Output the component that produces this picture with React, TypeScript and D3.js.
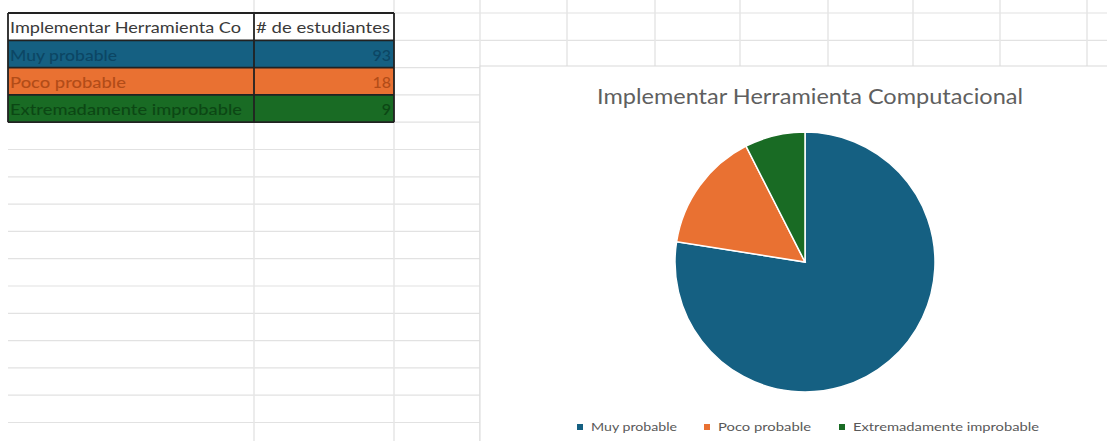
import React from "react";
import * as d3 from "d3";

const categories = ["Muy probable", "Poco probable", "Extremadamente improbable"];
const students = [93, 18, 9];
const headerLabels = ["Implementar Herramienta Co", "# de estudiantes"];
const chartTitle = "Implementar Herramienta Computacional";

const fills = ["#156082", "#E97132", "#196B24"];
const inkColors = ["#0c4664", "#b24c18", "#0c4714"];

const W = 1107;
const H = 441;

export default function App() {
  const colEdges = [8, 254, 394, 480, 567, 655, 740, 828, 913, 1000, 1087];
  const rowTop = 13;
  const rowH = 27.3;
  const rowLines = d3.range(0, 16).map((i) => rowTop + i * rowH);

  const pie = d3.pie<number>().sort(null).value((d) => d)(students);
  const cx = 805;
  const cy = 262;
  const r = 130;
  const arc = d3.arc<d3.PieArcDatum<number>>().innerRadius(0).outerRadius(r);

  const legendX = [580, 707, 842];
  const legendW = [86, 93, 186];
  const labelW = [107, 116, 232];

  const tableBottom = rowTop + 4 * rowH;
  const font = "Lato, 'Open Sans', sans-serif";

  return (
    <svg width={W} height={H} style={{ position: "absolute", left: 0, top: 0, background: "#fff" }}>
      <rect x={0} y={0} width={W} height={H} fill="#ffffff" />
      {rowLines.map((y, i) => (
        <line key={"h" + i} x1={8} x2={W} y1={y} y2={y} stroke="#e2e2e2" strokeWidth={1.2} />
      ))}
      {colEdges.slice(1).map((x, i) => (
        <line key={"v" + i} x1={x} x2={x} y1={0} y2={H} stroke="#e6e6e6" strokeWidth={1.5} />
      ))}

      {categories.map((c, i) => {
        const y = rowTop + (i + 1) * rowH;
        return (
          <g key={"row" + i}>
            <rect x={colEdges[0]} y={y} width={colEdges[2] - colEdges[0]} height={rowH} fill={fills[i]} />
            <text
              x={10}
              y={y + rowH - 7}
              fontFamily={font}
              fontSize={16}
              fontWeight={500}
              fill={inkColors[i]}
              textLength={labelW[i]}
              lengthAdjust="spacingAndGlyphs"
            >
              {c}
            </text>
            <text
              x={colEdges[2] - 3}
              y={y + rowH - 7}
              textAnchor="end"
              fontFamily={font}
              fontSize={16}
              fontWeight={500}
              fill={inkColors[i]}
            >
              {students[i]}
            </text>
          </g>
        );
      })}
      <rect x={colEdges[0]} y={rowTop} width={colEdges[2] - colEdges[0]} height={rowH} fill="#fff" />
      <text x={10} y={rowTop + rowH - 7} fontFamily={font} fontSize={16} fill="#3a3a3a" textLength={231} lengthAdjust="spacingAndGlyphs">
        {headerLabels[0]}
      </text>
      <text x={256} y={rowTop + rowH - 7} fontFamily={font} fontSize={16} fill="#3a3a3a" textLength={134} lengthAdjust="spacingAndGlyphs">
        {headerLabels[1]}
      </text>
      {[0, 1, 2, 3, 4].map((i) => (
        <line key={"tb" + i} x1={colEdges[0]} x2={colEdges[2]} y1={rowTop + i * rowH} y2={rowTop + i * rowH} stroke="#222" strokeWidth={1.8} />
      ))}
      {[0, 1, 2].map((i) => (
        <line key={"tv" + i} x1={colEdges[i]} x2={colEdges[i]} y1={rowTop} y2={tableBottom} stroke="#222" strokeWidth={1.8} />
      ))}

      <rect x={480} y={66} width={W - 480 + 5} height={H - 66 + 5} fill="#ffffff" stroke="#d9d9d9" strokeWidth={1} />
      <text
        x={810}
        y={104}
        textAnchor="middle"
        fontFamily={font}
        fontSize={21}
        fill="#5f5f5f"
        textLength={426}
        lengthAdjust="spacingAndGlyphs"
      >
        {chartTitle}
      </text>
      <g transform={`translate(${cx},${cy})`}>
        {pie.map((p, i) => (
          <path key={"s" + i} d={arc(p) || ""} fill={fills[i]} stroke="#ffffff" strokeWidth={1.5} />
        ))}
      </g>
      {categories.map((c, i) => (
        <g key={"lg" + i}>
          <rect x={legendX[i] - 3} y={424} width={6} height={6} fill={fills[i]} />
          <text
            x={legendX[i] + 11}
            y={431}
            fontFamily={font}
            fontSize={11.5}
            fill="#595959"
            textLength={legendW[i]}
            lengthAdjust="spacingAndGlyphs"
          >
            {c}
          </text>
        </g>
      ))}
    </svg>
  );
}
